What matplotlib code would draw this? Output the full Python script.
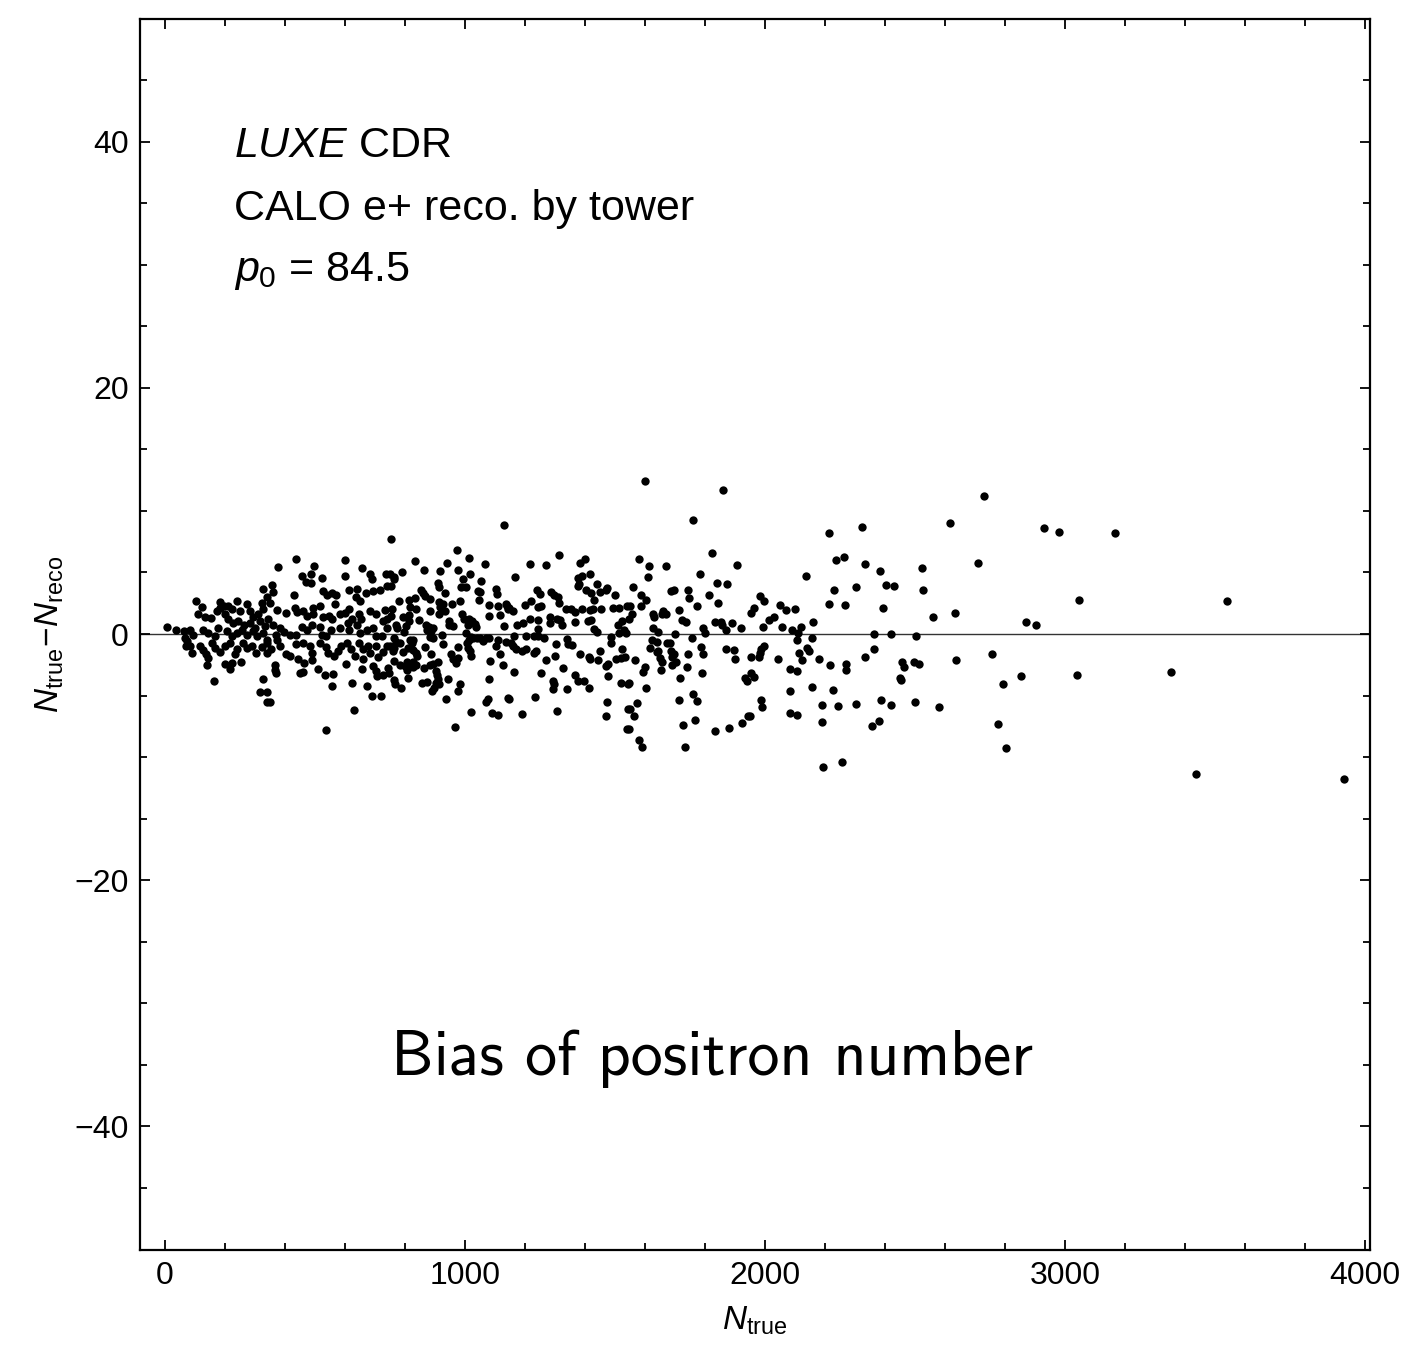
import matplotlib
matplotlib.use("Agg")
import matplotlib.pyplot as plt
from matplotlib.ticker import MultipleLocator

# ---------------- data ----------------
# sparse high-N region
x_a = [2730, 2617, 2931, 2979, 3166, 2382, 2522, 2402, 2430, 2526, 2710, 3048, 2392, 2561,
       2632, 2870, 2902, 2363, 2420, 2505, 2365, 2757, 2636, 2458, 2464, 2496, 2512, 2853,
       3041, 2794, 2451, 2455, 2388, 2419, 2499, 2580, 2357, 2381, 2778, 2803,
       3540, 3353, 3436, 3930]
y_a = [11.2, 9.0, 8.6, 8.3, 8.2, 5.1, 5.4, 4.0, 3.9, 3.6, 5.8, 2.75, 2.1, 1.4,
       1.7, 1.0, 0.7, 0.0, 0.0, -0.2, -1.2, -1.6, -2.1, -2.3, -2.7, -2.3, -2.4, -3.4,
       -3.3, -4.1, -3.6, -3.7, -5.4, -5.8, -5.5, -5.9, -7.5, -7.1, -7.3, -9.3,
       2.7, -3.1, -11.4, -11.8]

# 1950 - 2350
x_b = [2212, 2325, 2236, 2262, 2333, 2137, 2231, 2302, 2214, 2267, 1983, 1963, 1955, 1996,
       2049, 2069, 2100, 2012, 2031, 1992, 2056, 2091, 2110, 2119, 2160, 2107, 2157, 1996,
       1988, 1983, 1955, 1981, 2042, 2115, 2139, 2147, 2124, 2181, 2217, 2270, 2271, 2334,
       2085, 2106, 1953, 1964, 2084, 2156, 2227, 1988, 1990, 2191, 2245, 2303, 1950, 2084,
       2106, 2190, 2193, 2256]
y_b = [8.2, 8.7, 6.0, 6.25, 5.65, 4.7, 3.55, 3.85, 2.4, 2.35, 3.05, 2.15, 1.7, 2.65,
       2.35, 1.95, 2.0, 1.1, 1.35, 0.55, 0.55, 0.3, 0.1, 0.6, 1.0, -0.45, -0.35, -1.0,
       -1.25, -1.55, -1.9, -1.9, -2.0, -1.55, -1.1, -1.35, -2.15, -2.05, -2.55, -2.45, -2.9, -1.85,
       -2.85, -3.0, -3.15, -3.5, -4.65, -4.3, -4.55, -5.4, -5.9, -5.75, -5.85, -5.7, -6.7, -6.4,
       -6.55, -7.15, -10.8, -10.4]

# 1550 - 1950
x_c = [1601, 1861, 1760, 1822, 1579, 1615, 1669, 1611, 1908, 1785, 1560, 1586, 1605, 1840,
       1875, 1686, 1696, 1744, 1748, 1813, 1845, 1774, 1586, 1549, 1558, 1547, 1628, 1629,
       1661, 1671, 1658, 1715, 1725, 1736, 1833, 1853, 1856, 1870, 1889, 1921, 1795, 1800,
       1627, 1644, 1701, 1756, 1625, 1639, 1673, 1684, 1616, 1642, 1640, 1686, 1696, 1689,
       1702, 1691, 1650, 1658, 1653, 1742, 1788, 1795, 1870, 1898, 1899, 1741, 1567, 1599,
       1594, 1790, 1547, 1604, 1716, 1933, 1941, 1760, 1773, 1714, 1573, 1549, 1564, 1944,
       1726, 1766, 1835, 1880, 1924, 1547, 1579, 1590, 1732]
y_c = [12.45, 11.7, 9.3, 6.55, 6.1, 5.5, 5.55, 4.6, 5.6, 4.85, 3.8, 3.15, 2.75, 4.15,
       4.1, 3.5, 3.55, 3.55, 2.9, 3.15, 2.55, 2.3, 2.3, 2.25, 1.65, 1.25, 1.65, 1.4,
       1.85, 1.65, 1.65, 1.95, 1.15, 0.95, 1.0, 1.0, 0.75, 0.35, 0.9, 0.45, 0.5, 0.1,
       0.45, 0.2, 0.0, -0.3, -0.45, -0.65, -0.75, -0.75, -1.1, -1.35, -1.5, -1.4, -1.6, -1.9,
       -2.3, -2.5, -1.95, -2.25, -2.9, -1.6, -1.05, -1.65, -1.25, -1.3, -2.0, -2.7, -2.15, -2.65,
       -3.05, -3.15, -3.95, -4.35, -3.6, -3.6, -3.85, -4.85, -5.45, -5.4, -5.6, -6.1, -6.7, -6.7,
       -7.4, -7.0, -7.85, -7.65, -7.25, -7.75, -8.6, -9.2, -9.15]

# 1150 - 1550
x_d = [1312, 1216, 1269, 1383, 1400, 1168, 1378, 1390, 1418, 1376, 1380, 1402, 1419, 1440,
       1450, 1475, 1471, 1501, 1239, 1250, 1286, 1296, 1310, 1312, 1431, 1199, 1219, 1245,
       1253, 1148, 1159, 1337, 1355, 1366, 1390, 1418, 1426, 1454, 1493, 1513, 1540, 1410,
       1420, 1366, 1282, 1284, 1306, 1318, 1322, 1217, 1244, 1243, 1195, 1174, 1431, 1441,
       1509, 1522, 1515, 1538, 1530, 1164, 1204, 1229, 1244, 1263, 1339, 1345, 1358, 1488,
       1487, 1153, 1161, 1170, 1189, 1203, 1236, 1230, 1304, 1384, 1450, 1523, 1301, 1415,
       1418, 1443, 1505, 1521, 1535, 1476, 1469, 1269, 1328, 1164, 1254, 1366, 1478, 1378,
       1398, 1412, 1295, 1297, 1294, 1339, 1521, 1542, 1148, 1233, 1473, 1542, 1189, 1308,
       1469, 1539]
y_d = [6.45, 5.65, 5.6, 5.75, 6.1, 4.6, 4.55, 4.75, 4.85, 3.9, 4.1, 3.55, 3.3, 4.1,
       3.45, 3.7, 3.55, 3.2, 3.55, 3.25, 3.4, 3.15, 3.0, 2.5, 2.8, 2.35, 2.7, 2.2,
       2.25, 2.15, 1.85, 2.0, 2.0, 1.75, 2.05, 1.95, 2.0, 2.0, 2.15, 2.15, 2.3, 1.05,
       1.1, 1.0, 1.35, 0.9, 1.2, 1.1, 0.7, 1.25, 1.1, 0.4, 0.9, 0.7, 0.4, 0.15,
       0.75, 1.05, 0.1, 0.1, 0.35, -0.2, -0.2, -0.2, -0.15, -0.35, -0.4, -0.85, -0.9, -0.25,
       -0.7, -0.75, -1.0, -1.25, -1.35, -1.25, -1.4, -1.55, -0.85, -1.6, -1.4, -1.2, -1.75, -1.85,
       -2.05, -2.15, -2.0, -1.95, -1.9, -2.4, -2.6, -2.15, -2.75, -3.1, -3.15, -3.35, -3.45, -3.85,
       -3.85, -4.35, -3.85, -4.1, -4.45, -4.45, -4.0, -4.05, -5.25, -5.1, -5.5, -6.1, -6.5, -6.25,
       -6.7, -7.75]

# 750 - 1150
x_e = [1131, 755, 973, 1012, 834, 941, 1067, 791, 865, 916, 976, 1016, 750, 764,
       762, 753, 911, 912, 994, 988, 1005, 1054, 853, 860, 867, 885, 933, 1043,
       1049, 1046, 1105, 1107, 781, 813, 835, 818, 837, 815, 912, 926, 917, 932,
       915, 956, 985, 1081, 1110, 1137, 756, 755, 771, 773, 793, 812, 802, 798,
       846, 885, 870, 879, 872, 888, 892, 948, 959, 946, 990, 998, 1013, 1023,
       1033, 1037, 1010, 1081, 1118, 1129, 1143, 1140, 925, 882, 895, 762, 771, 782,
       817, 823, 828, 1004, 1014, 1021, 1026, 1039, 1049, 1059, 1070, 1079, 1109, 1137,
       1103, 926, 976, 1006, 1010, 1017, 749, 760, 765, 793, 809, 826, 837, 840,
       867, 887, 955, 959, 976, 970, 1019, 1083, 1117, 1127, 765, 784, 801, 806,
       815, 828, 837, 826, 806, 862, 882, 893, 909, 903, 906, 909, 903, 915,
       898, 890, 748, 762, 768, 787, 809, 857, 873, 943, 985, 977, 1081, 937,
       1070, 1078, 1143, 1021, 1090, 1109, 968]
y_e = [8.85, 7.7, 6.8, 6.15, 5.9, 5.8, 5.7, 5.05, 5.2, 5.15, 5.2, 4.85, 4.85, 4.65,
       4.45, 3.9, 4.15, 3.8, 4.5, 3.8, 3.85, 4.3, 3.6, 3.35, 3.1, 2.85, 3.3, 3.5,
       3.4, 2.8, 3.65, 3.25, 2.7, 2.75, 2.9, 2.2, 2.0, 1.55, 2.6, 2.4, 2.2, 1.9,
       1.65, 2.45, 2.65, 2.35, 2.25, 2.4, 2.0, 1.45, 0.7, 0.5, 1.35, 1.05, 0.65, 0.2,
       1.1, 1.85, 0.7, 0.6, 0.3, 0.25, 0.5, 1.05, 0.65, 0.7, 1.6, 1.2, 1.25, 1.05,
       0.85, 0.6, 0.75, 1.5, 1.55, 0.65, 2.0, 2.25, -0.1, -0.25, -0.3, -0.35, -0.65, -0.75,
       -0.45, -0.7, -0.45, 0.05, -0.5, -0.25, -0.35, -0.3, -0.3, -0.55, -0.35, -0.3, -0.5, -0.65,
       -1.0, -0.85, -1.05, -0.75, -1.1, -1.35, -1.0, -1.4, -1.1, -1.5, -1.1, -1.3, -1.55, -1.75,
       -1.05, -1.65, -1.65, -2.0, -1.95, -2.35, -1.8, -2.2, -1.65, -2.55, -2.2, -2.55, -2.6, -2.3,
       -2.5, -2.3, -2.55, -2.7, -2.95, -2.75, -2.55, -2.4, -2.3, -3.0, -3.3, -3.65, -3.95, -4.1,
       -4.35, -4.65, -3.15, -3.75, -4.1, -4.35, -3.55, -3.95, -3.9, -3.65, -4.05, -4.65, -3.65, -5.3,
       -5.55, -5.3, -5.2, -6.35, -6.45, -6.6, -7.55]

# 340 - 750
x_f = [436, 377, 601, 497, 488, 471, 486, 457, 524, 599, 657, 682, 691, 737,
       358, 360, 431, 527, 540, 556, 571, 613, 641, 636, 649, 671, 693, 716,
       740, 349, 372, 403, 433, 440, 461, 474, 494, 492, 518, 527, 547, 556,
       566, 583, 599, 615, 624, 646, 654, 682, 702, 727, 740, 733, 361, 383,
       397, 371, 416, 438, 458, 474, 491, 516, 525, 538, 555, 583, 610, 640,
       615, 649, 673, 693, 702, 724, 740, 372, 355, 383, 403, 418, 436, 461,
       482, 491, 516, 536, 543, 562, 588, 577, 606, 619, 632, 646, 660, 676,
       684, 702, 711, 727, 740, 366, 369, 366, 443, 462, 451, 460, 491, 510,
       532, 560, 558, 602, 624, 660, 658, 673, 693, 704, 706, 726, 742, 691,
       721, 630, 349, 537]
y_f = [6.1, 5.45, 6.0, 5.5, 4.85, 4.2, 4.15, 4.75, 4.55, 4.7, 5.35, 4.9, 4.5, 4.9,
       3.95, 3.4, 3.15, 3.5, 3.15, 3.35, 3.2, 3.6, 3.65, 3.0, 2.65, 3.35, 3.5, 3.6,
       3.9, 2.55, 1.95, 1.7, 2.15, 1.75, 1.85, 1.5, 2.15, 1.6, 2.25, 1.35, 1.5, 1.2,
       2.4, 1.65, 1.7, 2.0, 1.25, 1.65, 1.2, 1.9, 1.6, 1.05, 1.25, 1.95, 0.75, 0.5,
       0.15, -0.05, -0.1, -0.05, 0.6, 0.35, 0.75, 0.6, -0.05, -0.2, 0.35, 0.5, 0.9, 0.7,
       0.3, 0.1, 0.35, 0.5, -0.2, -0.2, 0.5, -0.45, -1.25, -1.0, -1.65, -1.8, -0.85, -0.7,
       -1.0, -1.55, -0.7, -1.05, -1.55, -1.8, -0.95, -1.4, -0.75, -1.25, -1.75, -0.7, -1.25, -0.95,
       -1.55, -1.0, -1.85, -1.5, -0.95, -2.55, -3.2, -2.95, -2.0, -2.35, -3.2, -3.1, -2.15, -2.85,
       -3.35, -3.25, -4.25, -2.4, -3.95, -2.05, -2.85, -4.2, -2.6, -3.0, -3.45, -3.35, -2.75, -5.0,
       -5.0, -6.2, -5.5, -7.8]

# 0 - 345
x_g = [327, 102, 125, 184, 241, 275, 322, 340, 111, 133, 155, 172, 183, 196,
       211, 222, 250, 200, 211, 227, 244, 263, 283, 294, 311, 327, 283, 299,
       316, 333, 344, 8, 37, 63, 83, 94, 128, 144, 166, 178, 206, 222,
       239, 256, 272, 294, 308, 328, 339, 67, 74, 83, 70, 89, 116, 128,
       137, 145, 156, 167, 183, 200, 216, 233, 241, 261, 272, 289, 303, 322,
       339, 341, 141, 200, 216, 225, 253, 163, 327, 316, 339, 341]
y_g = [3.65, 2.7, 2.2, 2.6, 2.65, 2.4, 2.55, 3.0, 1.6, 1.4, 1.3, 1.85, 2.15, 2.3,
       2.25, 2.0, 1.85, 1.6, 1.2, 0.9, 1.05, 0.75, 1.85, 1.4, 1.6, 2.0, 0.9, 0.5,
       1.05, 0.65, 1.2, 0.6, 0.35, 0.25, 0.35, -0.05, 0.35, 0.1, -0.2, 0.5, 0.25, -0.2,
       0.1, 0.35, -0.05, 0.25, -0.2, 0.1, -0.45, -0.3, -0.6, -0.95, -1.0, -1.55, -1.0, -1.3,
       -1.65, -1.95, -0.7, -1.1, -1.5, -1.0, -0.7, -1.65, -1.25, -0.7, -1.1, -0.95, -1.55, -1.05,
       -1.55, -0.7, -2.55, -2.4, -2.85, -2.35, -2.3, -3.85, -3.65, -4.75, -4.75, -5.5]

n_true = x_a + x_b + x_c + x_d + x_e + x_f + x_g
bias = y_a + y_b + y_c + y_d + y_e + y_f + y_g

x_ticks = [0, 1000, 2000, 3000, 4000]
y_ticks = [-40, -20, 0, 20, 40]

# ---------------- style ----------------
plt.rcParams['font.family'] = ['Liberation Sans', 'DejaVu Sans']
plt.rcParams['mathtext.fontset'] = 'custom'
plt.rcParams['mathtext.rm'] = 'Liberation Sans'
plt.rcParams['mathtext.it'] = 'Liberation Sans:italic'
plt.rcParams['mathtext.bf'] = 'Liberation Sans:bold'
plt.rcParams['mathtext.sf'] = 'Liberation Sans'

fig = plt.figure(figsize=(14.04, 13.54), dpi=100)
ax = fig.add_axes([140 / 1404, 1 - 1249.5 / 1354, 1230 / 1404, 1231 / 1354])

ax.axhline(0, color='#333333', lw=1.0, zorder=1)
ax.plot(n_true, bias, 'o', ms=6.0, color='black', mec='none', zorder=3)

ax.set_xlim(-83, 4017)
ax.set_ylim(-50, 50)
ax.set_xticks(x_ticks)
ax.set_yticks(y_ticks)
ax.xaxis.set_minor_locator(MultipleLocator(200))
ax.yaxis.set_minor_locator(MultipleLocator(5))
ax.tick_params(which='both', direction='in', top=True, right=True, width=1.3,
               labelsize=23, colors='black')
ax.tick_params(which='major', length=7, pad=8)
ax.tick_params(which='minor', length=5)
for s in ax.spines.values():
    s.set_linewidth(1.6)

ax.set_xlabel(r'$N_{\mathrm{true}}$', fontsize=24, labelpad=10)
ax.set_ylabel(r'$N_{\mathrm{true}}\!-\!N_{\mathrm{reco}}$', fontsize=24, labelpad=6)

ax.text(0.0764, 0.8875, r'$\mathit{LUXE}$ CDR', transform=ax.transAxes,
        fontsize=31, va='baseline', ha='left')
ax.text(0.0764, 0.836, 'CALO e+ reco. by tower', transform=ax.transAxes,
        fontsize=31, va='baseline', ha='left')
ax.text(0.0764, 0.787, r'$p_{\mathrm{0}}$ = 84.5', transform=ax.transAxes,
        fontsize=31, va='baseline', ha='left')

ax.text(0.465, 0.155, 'Bias of positron number', transform=ax.transAxes,
        fontsize=46, family='cmss10', ha='center', va='center')

fig.savefig('out.png', dpi=100)
